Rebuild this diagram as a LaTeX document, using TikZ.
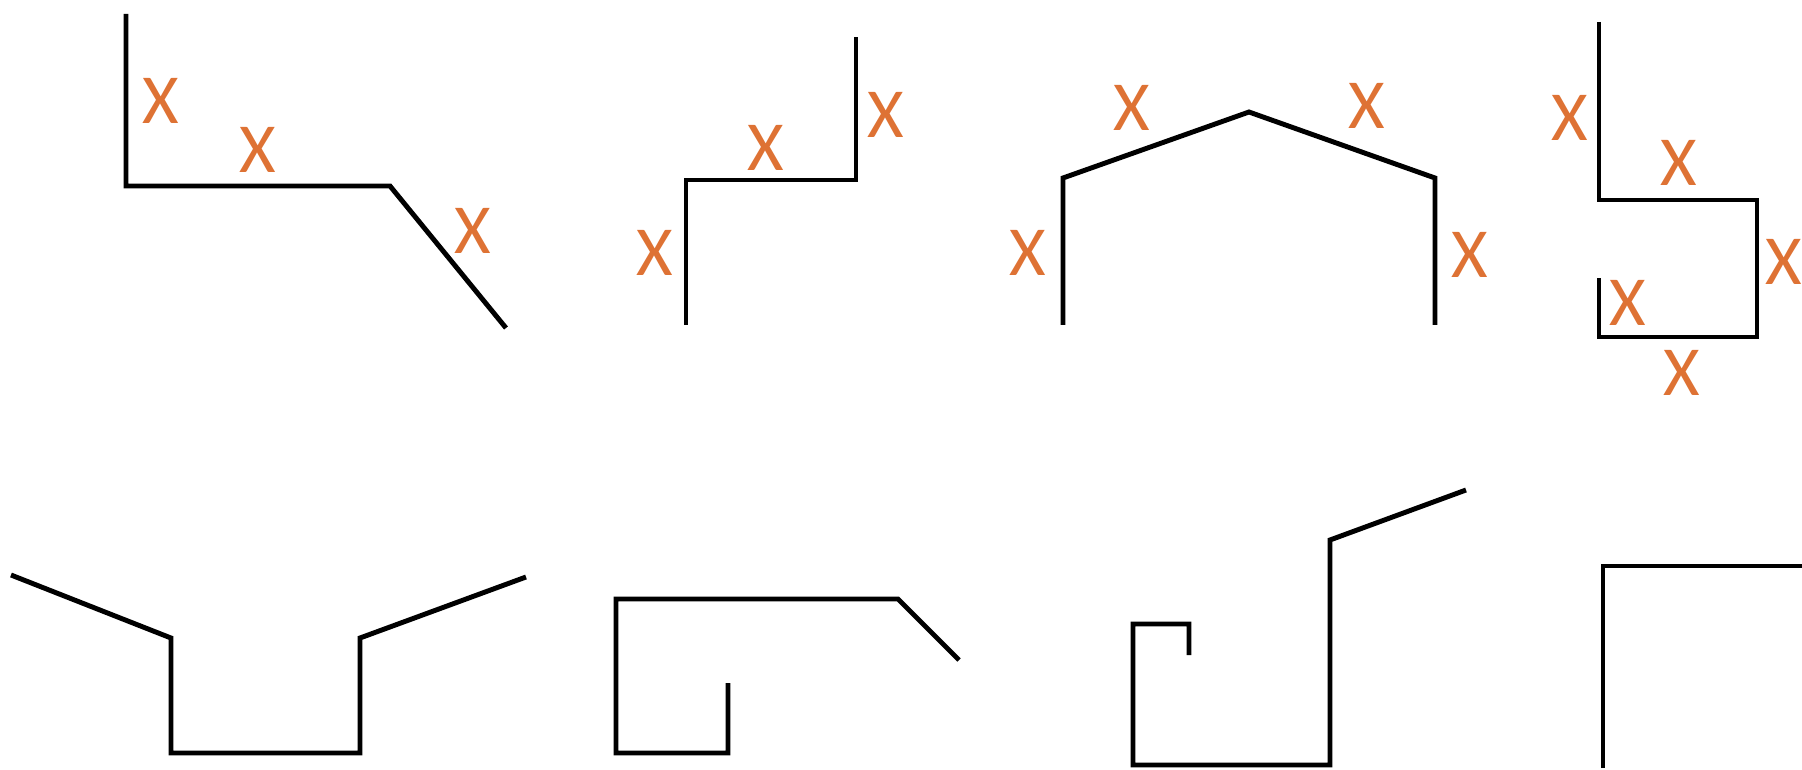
\documentclass[tikz,border=0pt]{standalone}
\usepackage{fontspec}
\setmainfont{Carlito}
\usepackage{tikz}
\definecolor{xorange}{RGB}{222,114,52}

\begin{document}
\begin{tikzpicture}[x=0.01cm,y=-0.01cm,line width=1.4pt,
  xlab/.style={text=xorange,font=\fontsize{20}{20}\selectfont,inner sep=0pt}]
  \useasboundingbox (0,0) rectangle (1802,770);
  \clip (0,0) rectangle (1802,770);
  \draw (126,14)--(126,186)--(390,186)--(506,328);
  \draw (686,325)--(686,180)--(856,180)--(856,37);
  \draw (1063,325)--(1063,178)--(1249,112)--(1435,178)--(1435,325);
  \draw (1599,22)--(1599,200)--(1757,200)--(1757,337)--(1599,337)--(1599,278);
  \draw (11,575)--(171,638)--(171,753)--(360,753)--(360,638)--(526,577);
  \draw (728,683)--(728,753)--(616,753)--(616,599)--(898,599)--(959,660);
  \draw (1189,655)--(1189,624)--(1133,624)--(1133,765)--(1330,765)--(1330,540)--(1466,490);
  \draw (1603,768)--(1603,566)--(1810,566);
  \foreach \x/\y [count=\i] in {161/101,258/150,473/231,655/253,766/148,886/115,
      1028/253,1132/108,1367/106,1470/255,1570/118,1679/163,1784/262,1628/303,1682/373}
    \node[xlab] (x\i) at (\x,\y) {X};
\end{tikzpicture}
\end{document}
